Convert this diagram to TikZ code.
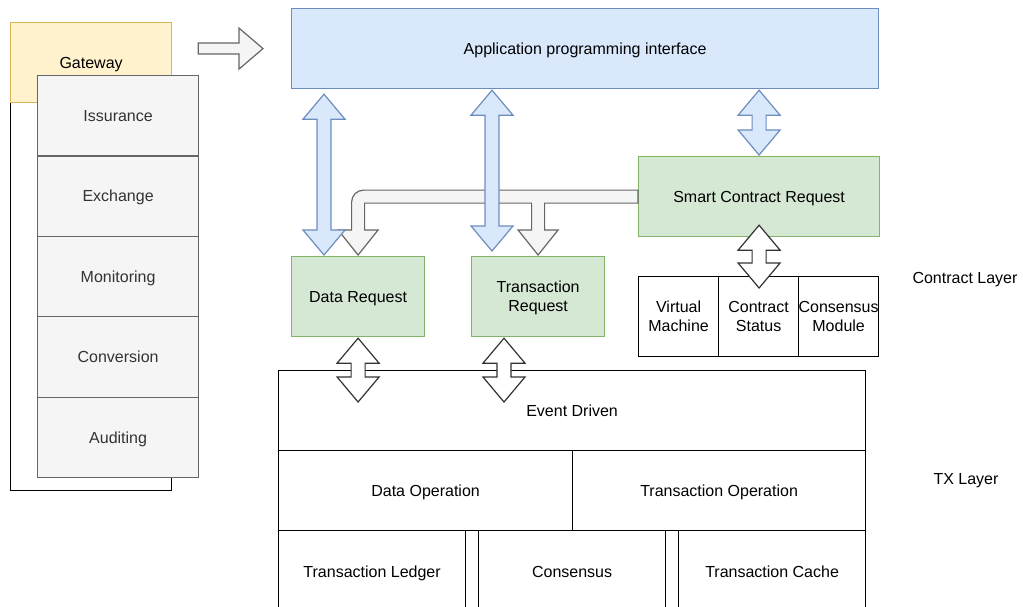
\documentclass[tikz,border=0pt]{standalone}
\usepackage{fontspec}
\setmainfont{Liberation Sans}
\usetikzlibrary{calc}

\definecolor{apiFill}{HTML}{DAE8FC}
\definecolor{apiLine}{HTML}{6C8EBF}
\definecolor{reqFill}{HTML}{D5E8D4}
\definecolor{reqLine}{HTML}{82B366}
\definecolor{gwFill}{HTML}{FFF2CC}
\definecolor{gwLine}{HTML}{D6B656}
\definecolor{modFill}{HTML}{F5F5F5}
\definecolor{modLine}{HTML}{666666}
\definecolor{modText}{HTML}{333333}
\definecolor{outline}{HTML}{333333}

% vertical two-headed block arrow: #1 style, #2 upper tip, #3 lower tip
\newcommand\twinarrow[3]{%
  \path[#1] let \p1=(#2), \p2=(#3) in
    (\x1,\y1) -- (\x1+21pt,\y1-25pt) -- (\x1+7pt,\y1-25pt)
    -- (\x1+7pt,\y2+25pt) -- (\x1+21pt,\y2+25pt) -- (\x1,\y2)
    -- (\x1-21pt,\y2+25pt) -- (\x1-7pt,\y2+25pt)
    -- (\x1-7pt,\y1-25pt) -- (\x1-21pt,\y1-25pt) -- cycle;}

\begin{document}
\begin{tikzpicture}[x=1pt,y=-1pt,
  txt/.style={font=\fontsize{16}{19}\selectfont, align=center, text depth=0pt},
  box/.style={txt, draw=black, line width=1.2pt, inner sep=0pt, anchor=north west},
  apibox/.style={box, fill=apiFill, draw=apiLine},
  reqbox/.style={box, fill=reqFill, draw=reqLine},
  gatebox/.style={box, fill=gwFill, draw=gwLine},
  modbox/.style={box, fill=modFill, draw=modLine, text=modText,
                 minimum width=161, minimum height=80.4},
  plainbox/.style={box, fill=white},
  grayarrow/.style={fill=modFill, draw=modLine, line width=1.2pt, line join=miter},
  bluearrow/.style={fill=apiFill, draw=apiLine, line width=1.2pt},
  whitearrow/.style={fill=white, draw=outline, line width=1.2pt}]

\useasboundingbox (0,0) rectangle (1023,607);

% gateway with its module stack
\node[plainbox, minimum width=161, minimum height=468] (gwframe) at (10,22) {};
\node[gatebox, minimum width=161, minimum height=80] (gw) at (10,22) {Gateway};
\node[modbox] (iss)  at (37,75)    {Issurance};
\node[modbox] (exch) at (37,155.4) {Exchange};
\node[modbox] (mon)  at (37,235.8) {Monitoring};
\node[modbox] (conv) at (37,316.2) {Conversion};
\node[modbox] (aud)  at (37,396.6) {Auditing};

% interface and request layer
\node[apibox, minimum width=587, minimum height=80] (api) at (291,8) {Application programming interface};
\node[reqbox, minimum width=241, minimum height=80] (scr) at (638,156) {Smart Contract Request};
\node[reqbox, minimum width=133, minimum height=80] (dreq) at (291,256) {Data Request};
\node[reqbox, minimum width=133, minimum height=80] (treq) at (471,256) {Transaction\\Request};

% contract layer
\node[plainbox, minimum width=80, minimum height=80] (vm)    at (638,276) {Virtual\\Machine};
\node[plainbox, minimum width=80, minimum height=80] (cstat) at (718,276) {Contract\\Status};
\node[plainbox, minimum width=80, minimum height=80] (cmod)  at (798,276) {Consensus\\Module};

% transaction layer
\node[plainbox, minimum width=587, minimum height=80] (event) at (278,370) {Event Driven};
\node[plainbox, minimum width=294, minimum height=80] (dop)   at (278,450) {Data Operation};
\node[plainbox, minimum width=293, minimum height=80] (top)   at (572,450) {Transaction Operation};
\node[plainbox, minimum width=187, minimum height=82] (tled)  at (278,530) {Transaction Ledger};
\node[plainbox, minimum width=187, minimum height=82] (cons)  at (478,530) {Consensus};
\node[plainbox, minimum width=187, minimum height=82] (tcache) at (678,530) {Transaction Cache};

% layer captions
\node[txt] (clayer) at (965,278) {Contract Layer};
\node[txt] (txlayer) at (966,479) {TX Layer};

% smart contract request feeding both requests
\path[grayarrow] let \p0=(scr.west), \p1=(dreq.north), \p2=(treq.north) in
  (\x0,\y0+6.5pt) -- (\x1+5.5pt,\y0+6.5pt)
  arc[start angle=90, end angle=180, radius=12pt]
  -- (\x1-6.5pt,\y1+26pt) -- (\x1-20pt,\y1+26pt) -- (\x1,\y1+1pt)
  -- (\x1+20pt,\y1+26pt) -- (\x1+6.5pt,\y1+26pt) -- (\x1+6.5pt,\y0-6.5pt)
  -- (\x2-6.5pt,\y0-6.5pt) -- (\x2-6.5pt,\y2+26pt) -- (\x2-20pt,\y2+26pt)
  -- (\x2,\y2+1pt) -- (\x2+20pt,\y2+26pt) -- (\x2+6.5pt,\y2+26pt)
  -- (\x2+6.5pt,\y0-6.5pt) -- (\x0,\y0-6.5pt) -- cycle;

% gateway to interface
\path[grayarrow] let \p1=(gw.east), \p2=(api.west) in
  (\x1+26pt,\y2+5.5pt) -- (\x2-52pt,\y2+5.5pt) -- (\x2-52pt,\y2+20.5pt)
  -- (\x2-28pt,\y2) -- (\x2-52pt,\y2-20.5pt) -- (\x2-52pt,\y2-5.5pt)
  -- (\x1+26pt,\y2-5.5pt) -- cycle;

% interface exchanges
\twinarrow{bluearrow}{$(api.south west)+(33,5)$}{$(dreq.north west)+(33,-1)$}
\twinarrow{bluearrow}{$(api.south west)+(201,1)$}{$(treq.north west)+(21,-5)$}
\twinarrow{bluearrow}{$(api.south -| scr.north)+(0,1)$}{$(scr.north)+(0,-1)$}

% links down to the contract and transaction layers
\twinarrow{whitearrow}{$(scr.south)+(0,-12)$}{$(cstat.north)+(0,12)$}
\twinarrow{whitearrow}{$(dreq.south)+(0,1)$}{$(dreq.south |- event.north)+(0,32)$}
\twinarrow{whitearrow}{$(treq.south west)+(33,1)$}{$(treq.south west |- event.north)+(33,32)$}

\end{tikzpicture}
\end{document}
